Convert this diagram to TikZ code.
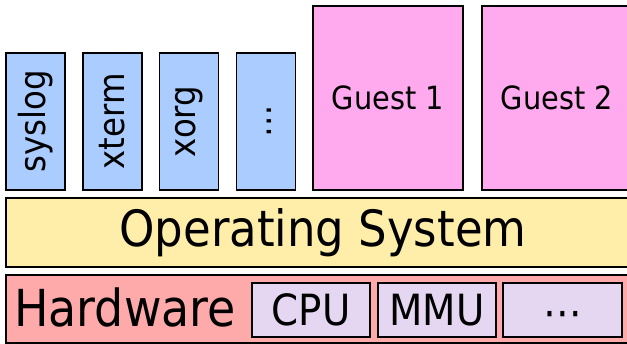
\documentclass[tikz,border=0pt]{standalone}
\usepackage{fontspec}
\setmainfont[FakeStretch=0.9]{DejaVu Sans}

\definecolor{appblue}{RGB}{170,204,255}
\definecolor{guestpink}{RGB}{255,170,238}
\definecolor{osyellow}{RGB}{255,238,170}
\definecolor{hwred}{RGB}{255,170,170}
\definecolor{partlilac}{RGB}{229,215,242}

\newcommand{\moredots}{\raisebox{-0.23em}[\height][\depth]{⋯}}

\tikzset{
  layer/.style={draw, line width=1.5pt, rectangle, inner sep=0pt},
  app/.style={layer, fill=appblue, minimum width=137pt, minimum height=59pt, rotate=90, font=\fontsize{36}{40}\selectfont},
  guest/.style={layer, fill=guestpink, minimum width=150pt, minimum height=184pt, font=\fontsize{32}{36}\selectfont},
  part/.style={layer, fill=partlilac, minimum width=118pt, minimum height=54pt, font=\fontsize{43}{47}\selectfont}
}

\begin{document}
\begin{tikzpicture}[x=1pt, y=-1pt]
\useasboundingbox (0,0) rectangle (627,344);
\clip (0,0) rectangle (627,344);

% Applications
\node[app] (syslog) at (35.5,121.5) {syslog};
\node[app] (xterm) at (112.5,121.5) {xterm};
\node[app] (xorg) at (189,121.5) {xorg};
\node[app] (moreapps) at (266,121.5) {\moredots};

% Guests
\node[guest] (guest1) at (388,98) {Guest 1};
\node[guest] (guest2) at (557,98) {Guest 2};

% Operating system
\node[layer, fill=osyellow, minimum width=634pt, minimum height=69pt, font=\fontsize{50}{54}\selectfont] (os) at (323,232.5) {Operating System};

% Hardware
\node[layer, fill=hwred, minimum width=634pt, minimum height=68pt] (hw) at (323,309) {};
\node[font=\fontsize{51}{55}\selectfont, inner sep=0pt] (hwlabel) at (125,307) {Hardware};
\node[part] (cpu) at (311,310) {CPU};
\node[part] (mmu) at (437,310) {MMU};
\node[part, minimum width=119pt] (moreparts) at (562.5,310) {\moredots};

\end{tikzpicture}
\end{document}
